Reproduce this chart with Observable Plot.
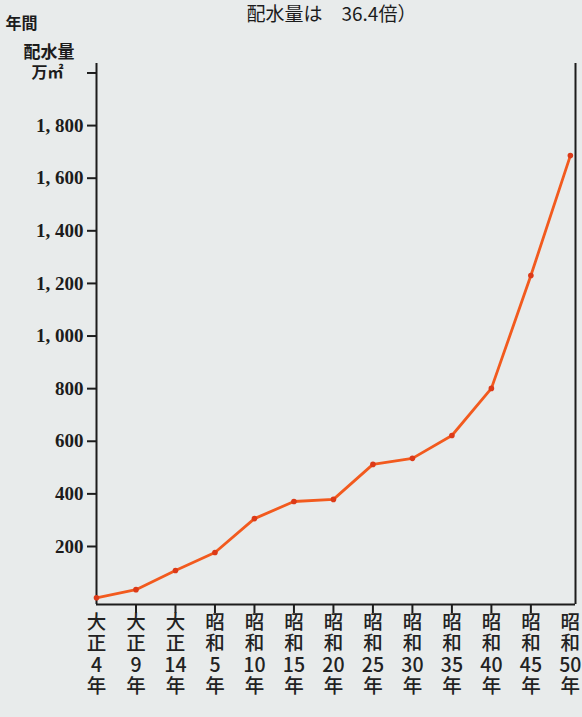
<!DOCTYPE html>
<html>
<head>
<meta charset="utf-8">
<script src="https://cdn.jsdelivr.net/npm/d3@7"></script>
<script src="https://cdn.jsdelivr.net/npm/@observablehq/plot@0.6"></script>
<style>
  html, body { margin: 0; padding: 0; background: #e8ebeb; }
  #chart svg { display: block; }
</style>
</head>
<body>
<div id="chart"></div>
<script>
// Data (年間配水量, 万㎡)
const eras = ["大正","大正","大正","昭和","昭和","昭和","昭和","昭和","昭和","昭和","昭和","昭和","昭和"];
const years = [4, 9, 14, 5, 10, 15, 20, 25, 30, 35, 40, 45, 50];
const volumes = [5, 36, 109, 177, 306, 371, 379, 512, 535, 622, 801, 1230, 1686];
const yTicks = [200, 400, 600, 800, 1000, 1200, 1400, 1600, 1800];
const unitTick = [2000];
const unitLabel = "万㎡";
const axisTitle1 = "年間";
const axisTitle2 = "配水量";
const topTitle = "配水量は　36.4倍）";

const data = years.map((y, i) => ({
  i,
  v: volumes[i],
  label: eras[i][0] + "\n" + eras[i][1] + "\n" + y + "\n年"
}));
const xTickIdx = data.slice(1, 12).map(d => d.i);

const xMax = 12.13, yMin = -20.5, yMax = 2036;
const cjk = "'Noto Sans CJK JP', sans-serif";
const serif = "'Liberation Serif', 'Noto Sans CJK JP', serif";
const ink = "#1c1c1c";
const fmt = d => d3.format(",")(d).replace(",", ", ");

const chart = Plot.plot({
  width: 582,
  height: 717,
  marginLeft: 96,
  marginRight: 7,
  marginTop: 63,
  marginBottom: 113,
  style: { background: "#e8ebeb", color: ink, fontFamily: serif },
  x: { type: "linear", domain: [0, xMax], axis: null },
  y: { domain: [yMin, yMax], axis: null },
  marks: [
    Plot.ruleX([0], { stroke: ink, strokeWidth: 2 }),
    Plot.ruleX([xMax], { stroke: ink, strokeWidth: 2 }),
    Plot.ruleY([yMin], { stroke: ink, strokeWidth: 2 }),
    Plot.axisY(yTicks, {
      anchor: "left", tickSize: 9, tickPadding: 4, strokeWidth: 2,
      tickFormat: fmt, fontSize: 19, fontWeight: "bold", fontFamily: serif, label: null
    }),
    Plot.axisY(unitTick, {
      anchor: "left", tickSize: 9, tickPadding: 24, strokeWidth: 2,
      tickFormat: () => unitLabel, fontSize: 16, fontWeight: "bold", fontFamily: cjk, label: null
    }),
    Plot.axisX(xTickIdx, { anchor: "bottom", tickSize: 9, strokeWidth: 2, tickFormat: () => "", label: null }),
    Plot.text(data, {
      x: "i", text: "label", frameAnchor: "bottom", dy: 9, lineAnchor: "top",
      lineHeight: 1.1, fontSize: 19.5, fontWeight: 500, fontFamily: cjk, fill: "#222"
    }),
    Plot.line(data, { x: "i", y: "v", stroke: "#f25a1e", strokeWidth: 2.8 }),
    Plot.dot(data, { x: "i", y: "v", r: 2.8, fill: "#dc3a18" }),
    Plot.text([axisTitle1], { text: d => d, frameAnchor: "top-left", dx: -91, dy: -46, textAnchor: "start", fontSize: 16, fontWeight: "bold", fontFamily: cjk }),
    Plot.text([axisTitle2], { text: d => d, frameAnchor: "top-left", dx: -73, dy: -18, textAnchor: "start", fontSize: 17, fontWeight: "bold", fontFamily: cjk }),
    Plot.text([topTitle], { text: d => d, frameAnchor: "top-left", dx: 150, dy: -56, textAnchor: "start", fontSize: 19, fontFamily: cjk })
  ]
});
document.getElementById("chart").appendChild(chart);
</script>
</body>
</html>
